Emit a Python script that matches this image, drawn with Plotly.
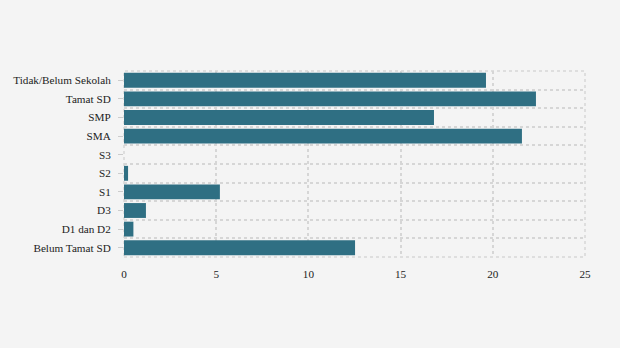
import plotly.graph_objects as go

categories = ["Belum Tamat SD", "D1 dan D2", "D3", "S1", "S2", "S3",
              "SMA", "SMP", "Tamat SD", "Tidak/Belum Sekolah"]
values = [12.53, 0.51, 1.19, 5.2, 0.22, 0.0, 21.58, 16.81, 22.34, 19.63]
x_ticks = [0, 5, 10, 15, 20, 25]

pos = list(range(len(categories)))
bounds = [p - 0.5 for p in pos] + [pos[-1] + 0.5]

fig = go.Figure(go.Bar(
    x=values, y=pos, orientation="h",
    marker=dict(color="#2f6f83", line=dict(width=0)),
    width=0.8,
))

GRID_COLOR = "#d6d6d6"
grid = dict(gridcolor=GRID_COLOR, gridwidth=1.5, griddash="3px,3px")
fig.update_layout(
    width=620, height=348,
    margin=dict(l=124, r=35, t=71, b=91),
    paper_bgcolor="#f4f4f4", plot_bgcolor="#f4f4f4",
    font=dict(family="'Liberation Serif', 'Times New Roman', serif", size=11.2, color="#222222"),
    showlegend=False,
    xaxis=dict(range=[0, 25], tickvals=x_ticks, showgrid=True, zeroline=False,
               showline=False, ticks="", ticklabelstandoff=9, **grid),
    yaxis=dict(range=[-0.5, len(categories) - 0.5], tickvals=pos, ticktext=categories,
               showgrid=False, zeroline=False, showline=False,
               ticks="outside", ticklen=5, tickcolor="#cccccc", tickwidth=1,
               ticklabelstandoff=5,
               minor=dict(tickvals=bounds, showgrid=True, ticks="", **grid)),
    shapes=[dict(type="rect", xref="x domain", yref="y domain", x0=0, x1=1, y0=0, y1=1,
                 line=dict(color=GRID_COLOR, width=1.5, dash="3px,3px"), layer="below")],
)
fig.write_html("out.html")
